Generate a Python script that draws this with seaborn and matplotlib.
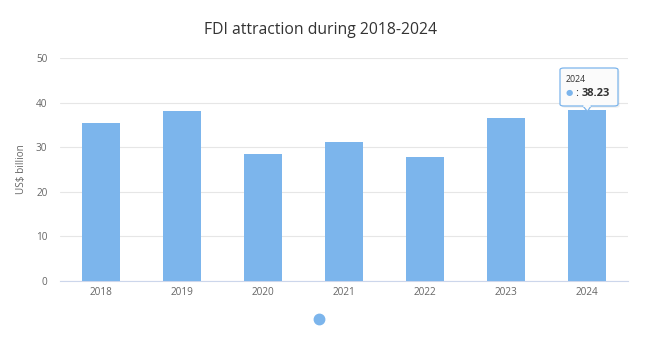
import matplotlib
matplotlib.use("Agg")
import matplotlib.pyplot as plt
import seaborn as sns
import pandas as pd
from matplotlib.patches import FancyBboxPatch, Polygon
from matplotlib.lines import Line2D

years = ["2018", "2019", "2020", "2021", "2022", "2023", "2024"]
fdi = [35.46, 38.02, 28.53, 31.15, 27.72, 36.61, 38.23]
yticks = [0, 10, 20, 30, 40, 50]
title = "FDI attraction during 2018-2024"
ylabel = "US$ billion"
highlight_year = "2024"

BAR = "#7cb5ec"
df = pd.DataFrame({"year": years, "fdi": fdi})

sns.set_style("white")
plt.rcParams["font.family"] = ["Open Sans", "DejaVu Sans"]

W, H = 655, 339
fig = plt.figure(figsize=(W / 100, H / 100), dpi=100)
L, R, T, B = 60, 628, 58, 281
ax = fig.add_axes([L / W, (H - B) / H, (R - L) / W, (B - T) / H])

sns.barplot(data=df, x="year", y="fdi", color=BAR, width=0.47, ax=ax,
            saturation=1, edgecolor="none", zorder=3)
ax.set_xlim(-0.5, 6.5)
ax.set_ylim(0, 50)
ax.set_yticks(yticks)
ax.yaxis.grid(True, color="#e6e6e6", linewidth=0.8, zorder=0)
for s in ["top", "right", "left"]:
    ax.spines[s].set_visible(False)
ax.spines["bottom"].set_color("#ccd6eb")
ax.spines["bottom"].set_linewidth(0.8)
ax.tick_params(axis="both", length=0, colors="#666666", labelsize=7.2)
ax.tick_params(axis="y", pad=9)
ax.tick_params(axis="x", pad=4)
ax.set_xlabel("")
ax.set_ylabel(ylabel, color="#666666", fontsize=7.2)
ax.yaxis.set_label_coords(-0.058, 0.5)
fig.text(321 / W, (H - 30) / H, title, ha="center", va="center",
         fontsize=11.3, color="#333333")

# pixel -> data helpers
def px2x(px):
    return (px - L) / (R - L) * 7 - 0.5

def px2y(py):
    return (B - py) / (B - T) * 50

# tooltip
idx = years.index(highlight_year)
val = fdi[idx]
x0, x1, y0, y1 = px2x(560), px2x(618), px2y(106), px2y(68)
shadow = FancyBboxPatch((x0 + 0.02, y0 - 0.4), x1 - x0, y1 - y0,
                        boxstyle="round,pad=0,rounding_size=0.05",
                        facecolor="#000000", alpha=0.06, edgecolor="none",
                        zorder=5, mutation_aspect=8)
ax.add_patch(shadow)
box = FancyBboxPatch((x0, y0), x1 - x0, y1 - y0,
                     boxstyle="round,pad=0,rounding_size=0.05",
                     facecolor="#fbfbfb", edgecolor=BAR, linewidth=0.9,
                     zorder=6, mutation_aspect=8)
box.set_clip_on(False)
ax.add_patch(box)
tri = Polygon([(px2x(583), y0), (px2x(591), y0), (idx, px2y(111.5))],
              closed=True, facecolor="#fbfbfb", edgecolor=BAR,
              linewidth=0.9, zorder=6, clip_on=False)
ax.add_patch(tri)
ax.plot([px2x(583.6), px2x(590.4)], [y0, y0], color="#fbfbfb",
        linewidth=1.4, zorder=7, clip_on=False)
ax.text(px2x(566), px2y(80), highlight_year, fontsize=6.3, color="#333333",
        va="center", ha="left", zorder=8)
ax.text(px2x(569.5), px2y(93.5), "\u25CF", fontsize=6, color=BAR,
        va="center", ha="center", zorder=8)
ax.text(px2x(575), px2y(93.5), ":", fontsize=8, color="#333333",
        va="center", ha="left", zorder=8)
ax.text(px2x(581.5), px2y(93.5), f"{val:.2f}", fontsize=8, color="#333333",
        fontweight="bold", va="center", ha="left", zorder=8)

# legend dot
fig.legend(handles=[Line2D([], [], marker="o", linestyle="none",
                           markerfacecolor=BAR, markeredgecolor=BAR,
                           markersize=7.5)],
           labels=[""], loc="center", bbox_to_anchor=(319 / W, (H - 320) / H),
           frameon=False, handletextpad=0, handlelength=1)

fig.savefig("out.png", dpi=100, facecolor="white")
